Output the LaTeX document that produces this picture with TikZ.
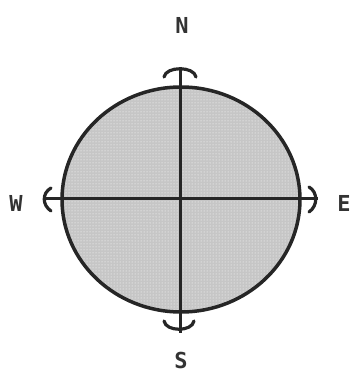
\documentclass[tikz,border=0pt]{standalone}
\usepackage{fontspec}
\setmainfont{DejaVu Sans Mono}
\usetikzlibrary{patterns}
\begin{document}
\begin{tikzpicture}[x=1pt,y=1pt,
  axisline/.style={line width=3pt,draw=black!85},
  capline/.style={line width=3.2pt,draw=black!85,line cap=round},
  lbl/.style={font=\fontsize{22}{24}\selectfont\bfseries,text=black!80,inner sep=0pt}]
\useasboundingbox (0,0) rectangle (353,373);
% globe
\fill[gray!45] (181,173.5) ellipse [x radius=119, y radius=112.5];
\fill[pattern=dots,pattern color=white] (181,173.5) ellipse [x radius=119, y radius=112.5];
\draw[line width=3.5pt,black!85] (181,173.5) ellipse [x radius=119, y radius=112.5];
% axis end points
\coordinate (ntop) at (180,306);
\coordinate (sbot) at (180,40);
\coordinate (wend) at (43,174);
\coordinate (eend) at (318,174);
\draw[axisline] (ntop) -- (sbot);
\draw[axisline] (wend) -- (eend);
% caps
\draw[capline] (164,296) .. controls (166,307) and (194,307) .. (196,296);
\draw[capline] (164,52) .. controls (166,41) and (192,41) .. (194,52);
\draw[capline] (51,185) .. controls (42,180) and (42,168) .. (51,162);
\draw[capline] (309,186) .. controls (318,181) and (318,167) .. (309,161);
% labels
\node[lbl] (N) at (182,348) {N};
\node[lbl] (S) at (181,13) {S};
\node[lbl] (W) at (16,170) {W};
\node[lbl] (E) at (344,170) {E};
\end{tikzpicture}
\end{document}
